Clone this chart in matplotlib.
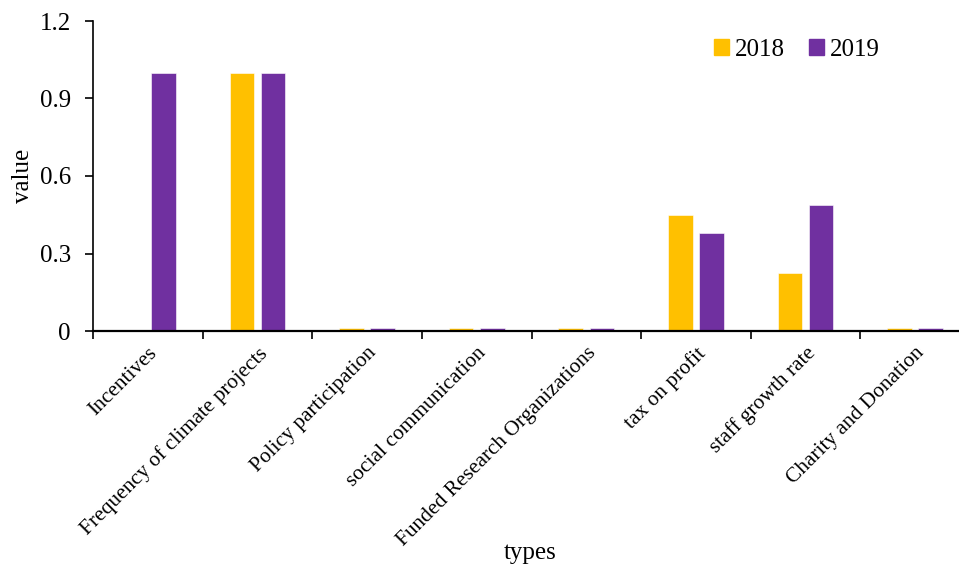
import numpy as np
import matplotlib.pyplot as plt
from matplotlib.patches import Patch

plt.rcParams['font.family'] = ['Liberation Serif', 'DejaVu Serif']

types = ['Incentives', 'Frequency of climate projects', 'Policy participation',
         'social communication', 'Funded Research Organizations', 'tax on profit',
         'staff growth rate', 'Charity and Donation']
v2018 = [0.0, 1.0, 0.01, 0.01, 0.01, 0.449, 0.223, 0.01]
v2019 = [1.0, 1.0, 0.01, 0.01, 0.01, 0.378, 0.488, 0.01]

c2018 = '#FFC000'
c2019 = '#7030A0'

fig = plt.figure(figsize=(9.59, 5.69), dpi=100)
# plot area runs past the right edge of the figure
ax = fig.add_axes([93 / 959, 1 - 331 / 569, 877 / 959, 310 / 569])

x = np.arange(len(types))
w = 0.224
off = 0.142
ax.bar(x - off, v2018, width=w, color=c2018, edgecolor='white', linewidth=0.4)
ax.bar(x + off, v2019, width=w, color=c2019, edgecolor='white', linewidth=0.4)

ax.set_xlim(-0.5, len(types) - 0.5)
ax.set_ylim(0, 1.2)
ax.set_yticks([0, 0.3, 0.6, 0.9, 1.2])
ax.set_yticklabels(['0', '0.3', '0.6', '0.9', '1.2'], fontsize=18)

# ticks sit between categories, labels at centres
ax.set_xticks(np.arange(len(types) + 1) - 0.5)
ax.set_xticklabels([])
ax.set_xticks(x, minor=True)
ax.set_xticklabels(types, minor=True, rotation=45, ha='right',
                   rotation_mode='anchor', fontsize=15.4)
ax.tick_params(axis='x', which='minor', length=0, pad=9)
ax.tick_params(axis='x', which='major', length=6, width=1.2, direction='out')
ax.tick_params(axis='y', length=6, width=1.2, direction='out', pad=10)

for s in ['top', 'right']:
    ax.spines[s].set_visible(False)
ax.spines['left'].set_linewidth(1.2)
ax.spines['bottom'].set_linewidth(1.6)

ax.set_ylabel('value', fontsize=18, labelpad=4)
fig.text(530 / 959, 1 - 553 / 569, 'types', fontsize=18, ha='center', va='center')

handles = [Patch(color=c2018, label='2018'), Patch(color=c2019, label='2019')]
ax.legend(handles=handles, loc='upper left', bbox_to_anchor=(0.683, 1.015),
          ncol=2, frameon=False, fontsize=18, handlelength=0.6, handleheight=0.6,
          handletextpad=0.2, columnspacing=1.0)

fig.savefig('out.png', dpi=100)
